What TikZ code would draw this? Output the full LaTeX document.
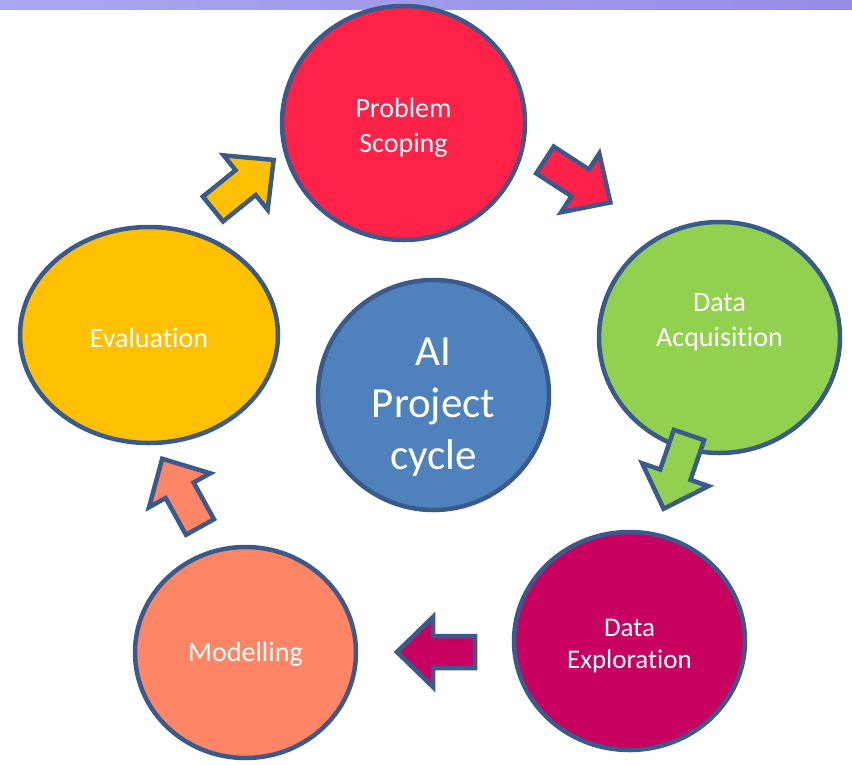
\documentclass[tikz,border=0pt]{standalone}
\usepackage{fontspec}
\setmainfont{Carlito}[Ligatures=NoCommon]
\usetikzlibrary{shapes.geometric}
\definecolor{edge}{RGB}{59,90,140}
\definecolor{cred}{RGB}{255,34,72}
\definecolor{cgreen}{RGB}{146,208,80}
\definecolor{cmag}{RGB}{200,0,96}
\definecolor{csalmon}{RGB}{255,133,103}
\definecolor{cyellow}{RGB}{255,192,0}
\definecolor{cblue}{RGB}{79,129,189}
\definecolor{strip}{RGB}{168,168,238}
\definecolor{stripdark}{RGB}{150,140,230}
\tikzset{
  stage/.style={ellipse, draw=edge, line width=4.5pt, inner sep=0pt},
  stagetext/.style={text=white, align=center, inner sep=0pt, font=\fontsize{28}{35}\selectfont},
  arr/.style={draw=edge, line width=4.5pt, line join=miter}
}
\newcommand{\blockarrow}[4]{%
  \begin{scope}[shift={(#1,#2)}, rotate=#3]
    \draw[arr, fill=#4] (0,-16) -- (42,-16) -- (42,-35) -- (78,0) -- (42,35) -- (42,16) -- (0,16) -- cycle;
  \end{scope}}
\begin{document}
\begin{tikzpicture}[x=1pt,y=-1pt]
\useasboundingbox (0,0) rectangle (852,764);
\fill[white] (0,0) rectangle (852,764);
\shade[left color=strip, right color=stripdark] (0,0) rectangle (852,9);
\node[stage, fill=cred, minimum width=243pt, minimum height=234pt] (ps) at (403.5,123) {};
\node[stage, fill=cgreen, minimum width=241pt, minimum height=231pt] (da) at (719.5,337.5) {};
\node[stage, fill=cmag, minimum width=231pt, minimum height=218pt] (de) at (629.5,641) {};
\node[stage, fill=csalmon, minimum width=221pt, minimum height=211pt] (mo) at (245.5,652.5) {};
\node[stage, fill=cyellow, minimum width=258pt, minimum height=216pt] (ev) at (149,335) {};
\node[stage, fill=cblue, minimum width=231pt, minimum height=230pt] (ai) at (433.5,395) {};
\node[stagetext] (pst) at ([yshift=-5pt]ps.center) {Problem\\Scoping};
\node[stagetext] (dat) at ([yshift=15pt]da.center) {Data\\Acquisition};
\node[stagetext, font=\fontsize{27}{32}\selectfont] (det) at ([yshift=-5pt]de.center) {Data\\Exploration};
\node[stagetext] (mot) at ([yshift=-2pt]mo.center) {Modelling};
\node[stagetext] (evt) at ([yshift=-3pt]ev.center) {Evaluation};
\node[stagetext, font=\fontsize{43}{52}\selectfont] (ait) at ([yshift=-12pt]ai.center) {AI\\Project\\cycle};
\blockarrow{545}{160}{-33}{cred}
\blockarrow{689}{435}{-109}{cgreen}
\blockarrow{475}{652}{180}{cmag}
\blockarrow{200}{527}{119}{csalmon}
\blockarrow{213}{209}{39}{cyellow}
\end{tikzpicture}
\end{document}
